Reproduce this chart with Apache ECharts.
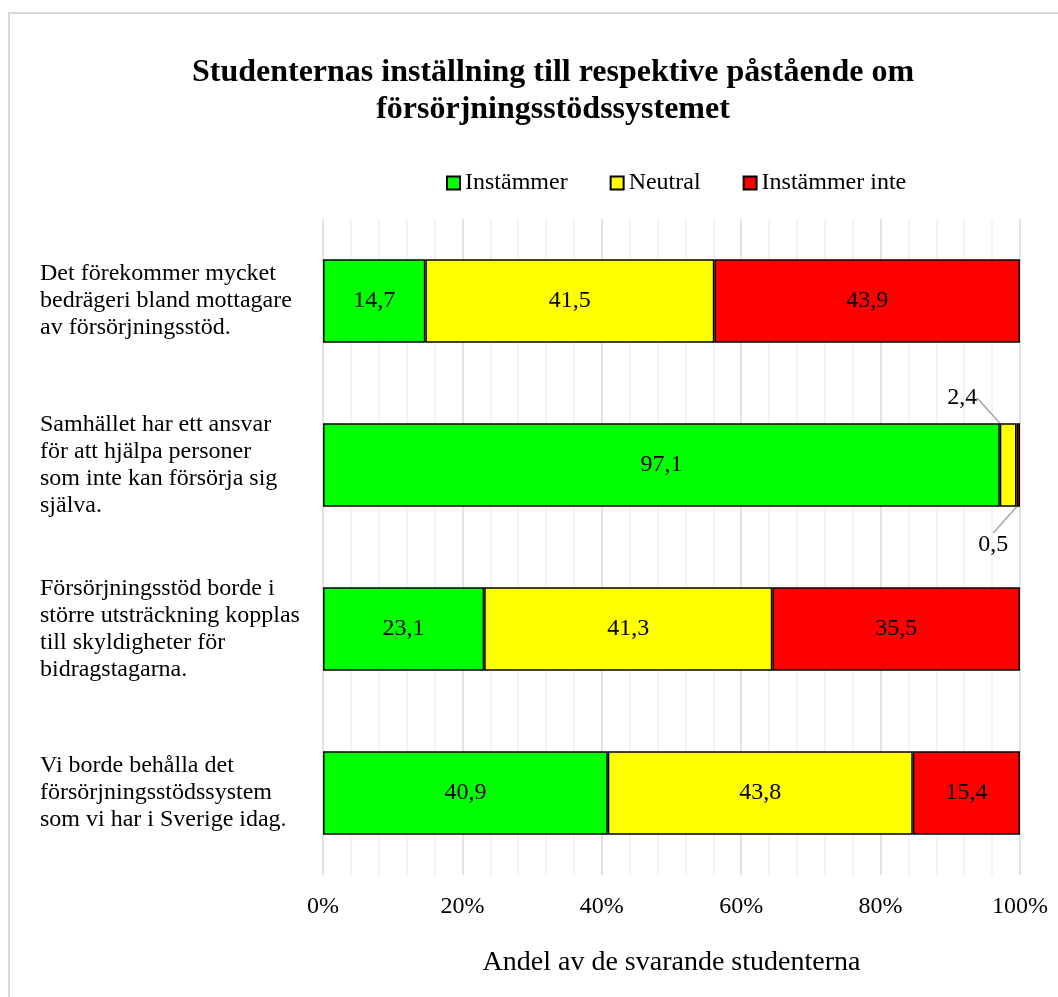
<!DOCTYPE html>
<html>
<head>
<meta charset="utf-8">
<script src="https://cdn.jsdelivr.net/npm/echarts@6/dist/echarts.min.js"></script>
<style>
	html, body { margin: 0; padding: 0; background: #fff; }
	#frame {
		position: absolute; left: 8px; top: 12px; width: 1100px; height: 1100px;
		border-left: 2px solid #d9d9d9; border-top: 2px solid #d9d9d9;
	}
	#main { position: absolute; left: 0; top: 0; width: 1058px; height: 997px; }
</style>
</head>
<body>
<div id="frame"></div>
<div id="main"></div>
<script>
const categories = [
	'Det förekommer mycket\nbedrägeri bland mottagare\nav försörjningsstöd.',
	'Samhället har ett ansvar\nför att hjälpa personer\nsom inte kan försörja sig\nsjälva.',
	'Försörjningsstöd borde i\nstörre utsträckning kopplas\ntill skyldigheter för\nbidragstagarna.',
	'Vi borde behålla det\nförsörjningsstödssystem\nsom vi har i Sverige idag.'
]
const instammer = [14.7, 97.1, 23.1, 40.9]
const neutral = [41.5, 2.4, 41.3, 43.8]
const instammerInte = [43.9, 0.5, 35.5, 15.4]
const xTicks = [0, 20, 40, 60, 80, 100]

const font = 'Liberation Serif, Times New Roman, serif'

// 100% stacked: each row is scaled to its own total, the label keeps the raw value
const totals = instammer.map(function (v, i) { return v + neutral[i] + instammerInte[i] })
function toShare(arr) {
	return arr.map(function (v, i) { return { value: v / totals[i] * 100, raw: v } })
}

function makeSeries(name, data, color, moved) {
	return {
		name: name, type: 'bar', stack: 'total',
		barCategoryGap: '49%',
		data: toShare(data),
		itemStyle: { color: color, borderColor: '#000', borderWidth: 1.5 },
		label: {
			show: true, position: 'inside', color: '#000', fontFamily: font, fontSize: 24,
			formatter: function (p) { return String(p.data.raw).replace('.', ',') }
		},
		labelLine: { show: true, lineStyle: { color: '#a6a6a6', width: 1.5 } },
		labelLayout: function (params) {
			if (moved && params.dataIndex === 1) return moved
			return {}
		}
	}
}

let chart = echarts.init(document.getElementById('main'))
chart.setOption({
	animation: false,
	title: {
		text: 'Studenternas inställning till respektive påstående om\nförsörjningsstödssystemet',
		left: 548, top: 49, textAlign: 'center',
		textStyle: { fontFamily: font, fontSize: 32, fontWeight: 'bold', color: '#000', lineHeight: 37 }
	},
	legend: {
		data: ['Instämmer', 'Neutral', 'Instämmer inte'],
		left: 441, top: 166,
		itemWidth: 13, itemHeight: 13, itemGap: 42,
		icon: 'rect',
		textStyle: { fontFamily: font, fontSize: 24, color: '#000' }
	},
	grid: { left: 323, right: 38, top: 219, bottom: 122 },
	xAxis: {
		type: 'value', min: 0, max: 100, interval: 20,
		axisLine: { show: false }, axisTick: { show: false },
		axisLabel: { formatter: '{value}%', fontFamily: font, fontSize: 24, color: '#000', margin: 20,
			customValues: xTicks },
		splitLine: { show: true, lineStyle: { color: '#d9d9d9', width: 1.5 } },
		minorTick: { show: false, splitNumber: 5 },
		minorSplitLine: { show: true, lineStyle: { color: '#f0f0f0', width: 1.5 } },
		name: 'Andel av de svarande studenterna', nameLocation: 'middle', nameGap: 74,
		nameTextStyle: { fontFamily: font, fontSize: 28, color: '#000' }
	},
	yAxis: {
		type: 'category', data: categories, inverse: true,
		axisLine: { show: false }, axisTick: { show: false },
		axisLabel: { align: 'left', margin: 283, fontFamily: font, fontSize: 24, color: '#000', lineHeight: 27 }
	},
	series: [
		makeSeries('Instämmer', instammer, '#00ff00', null),
		makeSeries('Neutral', neutral, '#ffff00', { dx: -46, dy: -67 }),
		makeSeries('Instämmer inte', instammerInte, '#ff0000', { dx: -25, dy: 80 })
	]
})
</script>
</body>
</html>
